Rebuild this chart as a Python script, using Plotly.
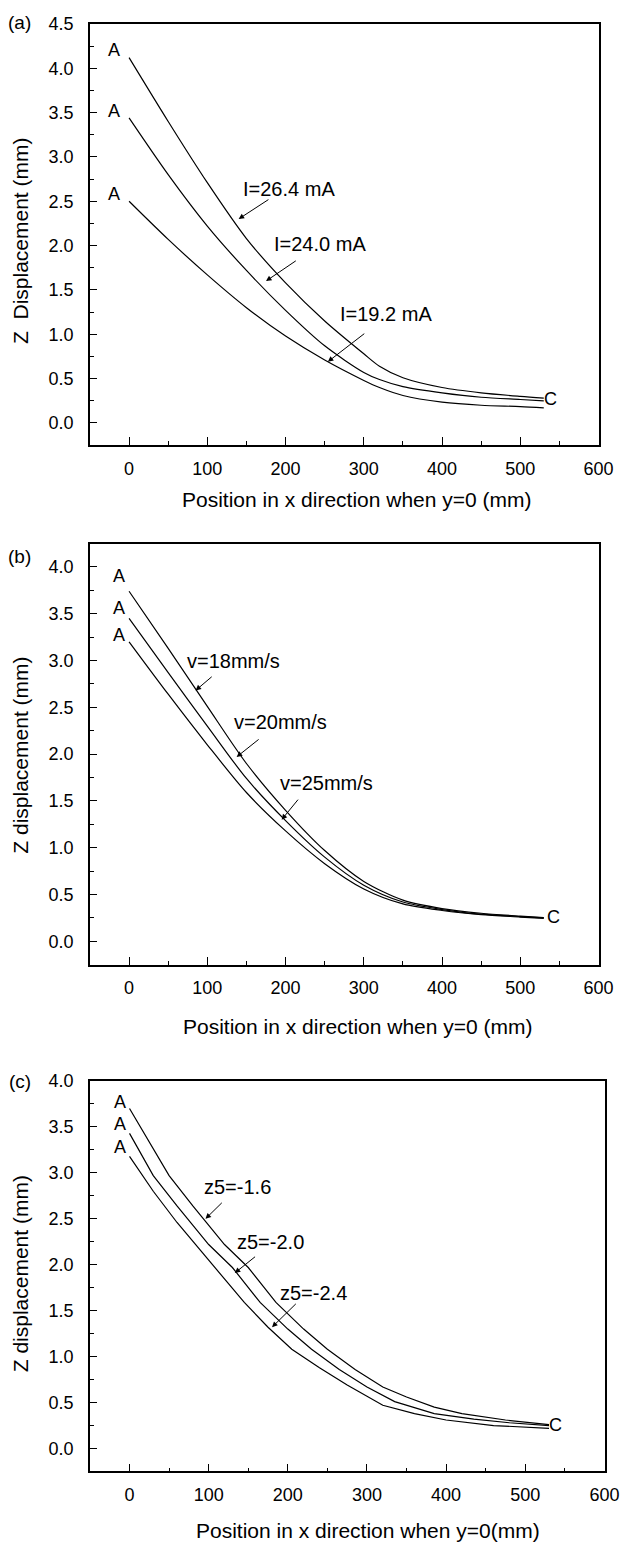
import plotly.graph_objects as go

# ---------------- data ----------------
# Panel (a): effect of beam current
x_a = [0, 50, 100, 150, 200, 250, 300, 320, 350, 400, 450, 500, 530]
z_a_264 = [4.12, 3.40, 2.71, 2.08, 1.58, 1.15, 0.78, 0.64, 0.51, 0.40, 0.34, 0.30, 0.28]
z_a_240 = [3.44, 2.80, 2.22, 1.72, 1.27, 0.87, 0.57, 0.49, 0.41, 0.34, 0.29, 0.265, 0.25]
z_a_192 = [2.50, 2.07, 1.67, 1.30, 0.98, 0.71, 0.48, 0.40, 0.31, 0.235, 0.20, 0.185, 0.17]
labels_a = ["I=26.4 mA", "I=24.0 mA", "I=19.2 mA"]

# Panel (b): effect of speed
x_b = [0, 50, 100, 150, 200, 250, 300, 350, 400, 450, 500, 530]
z_b_18 = [3.74, 3.13, 2.51, 1.90, 1.40, 0.97, 0.64, 0.44, 0.35, 0.30, 0.27, 0.255]
z_b_20 = [3.45, 2.87, 2.30, 1.74, 1.29, 0.90, 0.60, 0.42, 0.34, 0.29, 0.265, 0.25]
z_b_25 = [3.20, 2.64, 2.10, 1.59, 1.18, 0.83, 0.56, 0.40, 0.33, 0.285, 0.26, 0.245]
labels_b = ["v=18mm/s", "v=20mm/s", "v=25mm/s"]

# Panel (c): effect of z5
x_c_16 = [0, 50, 80, 120, 150, 185, 220, 250, 285, 320, 350, 385, 420, 475, 530]
z_c_16 = [3.70, 2.97, 2.64, 2.22, 1.97, 1.59, 1.30, 1.08, 0.86, 0.67, 0.56, 0.45, 0.38, 0.31, 0.26]
x_c_20 = [0, 30, 60, 100, 130, 165, 200, 230, 265, 300, 335, 385, 435, 480, 530]
z_c_20 = [3.43, 2.97, 2.64, 2.22, 1.97, 1.59, 1.30, 1.08, 0.86, 0.67, 0.51, 0.38, 0.32, 0.28, 0.25]
x_c_24 = [0, 30, 60, 100, 145, 175, 205, 240, 275, 320, 360, 400, 460, 530]
z_c_24 = [3.18, 2.80, 2.46, 2.05, 1.59, 1.32, 1.08, 0.88, 0.69, 0.47, 0.38, 0.31, 0.25, 0.22]
labels_c = ["z5=-1.6", "z5=-2.0", "z5=-2.4"]

x_title_ab = "Position in x direction when y=0 (mm)"
x_title_c = "Position in x direction when y=0(mm)"
y_title_a = "Z  Displacement (mm)"
y_title_bc = "Z displacement (mm)"

# ---------------- figure ----------------
W, H = 628, 1542
FONT = "Liberation Sans, Arial, sans-serif"
fig = go.Figure()

def add_line(x, y, xa, ya, shape):
    fig.add_trace(go.Scatter(x=x, y=y, mode="lines", xaxis=xa, yaxis=ya,
                             line=dict(color="black", width=1.2, shape=shape,
                                       smoothing=0.8 if shape == "spline" else None),
                             showlegend=False, hoverinfo="skip"))

for y in (z_a_264, z_a_240, z_a_192):
    add_line(x_a, y, "x", "y", "spline")
for y in (z_b_18, z_b_20, z_b_25):
    add_line(x_b, y, "x2", "y2", "spline")
for x, y in ((x_c_16, z_c_16), (x_c_20, z_c_20), (x_c_24, z_c_24)):
    add_line(x, y, "x3", "y3", "linear")

def px_dom(a, b):
    return [a / W, b / W]

def py_dom(top, bottom):
    return [1 - bottom / H, 1 - top / H]

def xaxis(dom, anchor):
    return dict(domain=dom, anchor=anchor, range=[-50, 601], tick0=0, dtick=100,
                showline=True, linecolor="black", linewidth=1.5, mirror=True,
                ticks="inside", ticklen=8, tickwidth=1.2, tickcolor="black",
                minor=dict(ticks="inside", ticklen=4, dtick=50, tickcolor="black", showgrid=False),
                showgrid=False, zeroline=False, ticklabelstandoff=6,
                tickfont=dict(size=18, family=FONT, color="black"))

def yaxis(dom, anchor, rng):
    return dict(domain=dom, anchor=anchor, range=rng, tick0=0, dtick=0.5, tickformat=".1f",
                showline=True, linecolor="black", linewidth=1.5, mirror=True,
                ticks="inside", ticklen=7, tickwidth=1.2, tickcolor="black",
                minor=dict(ticks="inside", ticklen=4, dtick=0.25, tickcolor="black", showgrid=False),
                showgrid=False, zeroline=False, ticklabelstandoff=11,
                tickfont=dict(size=18, family=FONT, color="black"))

annotations = []

def txt(text, x, y, xr, yr, size=20, yshift=3, angle=0):
    annotations.append(dict(text=text, x=x, y=y, xref=xr, yref=yr, showarrow=False,
                            xanchor="center", yanchor="middle", yshift=yshift, textangle=angle,
                            font=dict(size=size, family=FONT, color="black")))

def arrow(hx, hy, tx, ty, xr, yr):
    annotations.append(dict(text="", x=hx, y=hy, ax=tx, ay=ty, xref=xr, yref=yr,
                            axref=xr, ayref=yr, showarrow=True, arrowhead=2,
                            arrowsize=1.1, arrowwidth=1, arrowcolor="black"))

# panel labels
txt("(a)", 20 / W, 1 - 16 / H, "paper", "paper", 19)
txt("(b)", 20 / W, 1 - 553 / H, "paper", "paper", 19)
txt("(c)", 20 / W, 1 - 1082 / H, "paper", "paper", 19)

# axis titles (placed as in the reference)
txt(x_title_ab, 365 / W, 1 - 493 / H, "paper", "paper", 21, 0)
txt(x_title_ab, 366 / W, 1 - 1023 / H, "paper", "paper", 21, 0)
txt(x_title_c, 376 / W, 1 - 1530 / H, "paper", "paper", 21, 0)
txt(y_title_a, 21 / W, 1 - 232 / H, "paper", "paper", 21, 0, -90)
txt(y_title_bc, 21 / W, 1 - 750 / H, "paper", "paper", 21, 0, -90)
txt(y_title_bc, 21 / W, 1 - 1272 / H, "paper", "paper", 21, 0, -90)

# panel (a) annotations
for yv in (4.17, 3.48, 2.55):
    txt("A", -19, yv, "x", "y", 18)
txt("C", 538, 0.24, "x", "y", 18)
txt(labels_a[0], 204, 2.60, "x", "y")
arrow(140, 2.30, 180, 2.53, "x", "y")
txt(labels_a[1], 244, 1.99, "x", "y")
arrow(175, 1.60, 215, 1.84, "x", "y")
txt(labels_a[2], 329, 1.19, "x", "y")
arrow(254, 0.69, 302.5, 1.02, "x", "y")

# panel (b) annotations
for yv in (3.87, 3.53, 3.24):
    txt("A", -12.5, yv, "x2", "y2", 18)
txt("C", 542, 0.23, "x2", "y2", 18)
txt(labels_b[0], 134, 2.96, "x2", "y2")
arrow(85, 2.68, 107.5, 2.84, "x2", "y2")
txt(labels_b[1], 194, 2.31, "x2", "y2")
arrow(137.5, 1.97, 167.5, 2.17, "x2", "y2")
txt(labels_b[2], 252.5, 1.66, "x2", "y2")
arrow(195, 1.30, 217.5, 1.53, "x2", "y2")

# panel (c) annotations
for yv in (3.74, 3.50, 3.25):
    txt("A", -12, yv, "x3", "y3", 18)
txt("C", 538, 0.22, "x3", "y3", 18)
txt(labels_c[0], 136, 2.81, "x3", "y3")
arrow(96, 2.50, 118.5, 2.69, "x3", "y3")
txt(labels_c[1], 178, 2.22, "x3", "y3")
arrow(133, 1.91, 160.5, 2.10, "x3", "y3")
txt(labels_c[2], 232, 1.66, "x3", "y3")
arrow(180, 1.32, 212, 1.59, "x3", "y3")

fig.update_layout(
    width=W, height=H, margin=dict(l=0, r=0, t=0, b=0),
    paper_bgcolor="white", plot_bgcolor="white", showlegend=False,
    font=dict(family=FONT, color="black"),
    xaxis=xaxis(px_dom(92, 613), "y"),
    yaxis=yaxis(py_dom(14, 438), "x", [-0.25, 4.5]),
    xaxis2=xaxis(px_dom(92, 613), "y2"),
    yaxis2=yaxis(py_dom(537, 961), "x2", [-0.25, 4.25]),
    xaxis3=xaxis(px_dom(92, 619), "y3"),
    yaxis3=yaxis(py_dom(1078, 1471), "x3", [-0.25, 4.0]),
    annotations=annotations,
)

fig.write_html("out.html")
